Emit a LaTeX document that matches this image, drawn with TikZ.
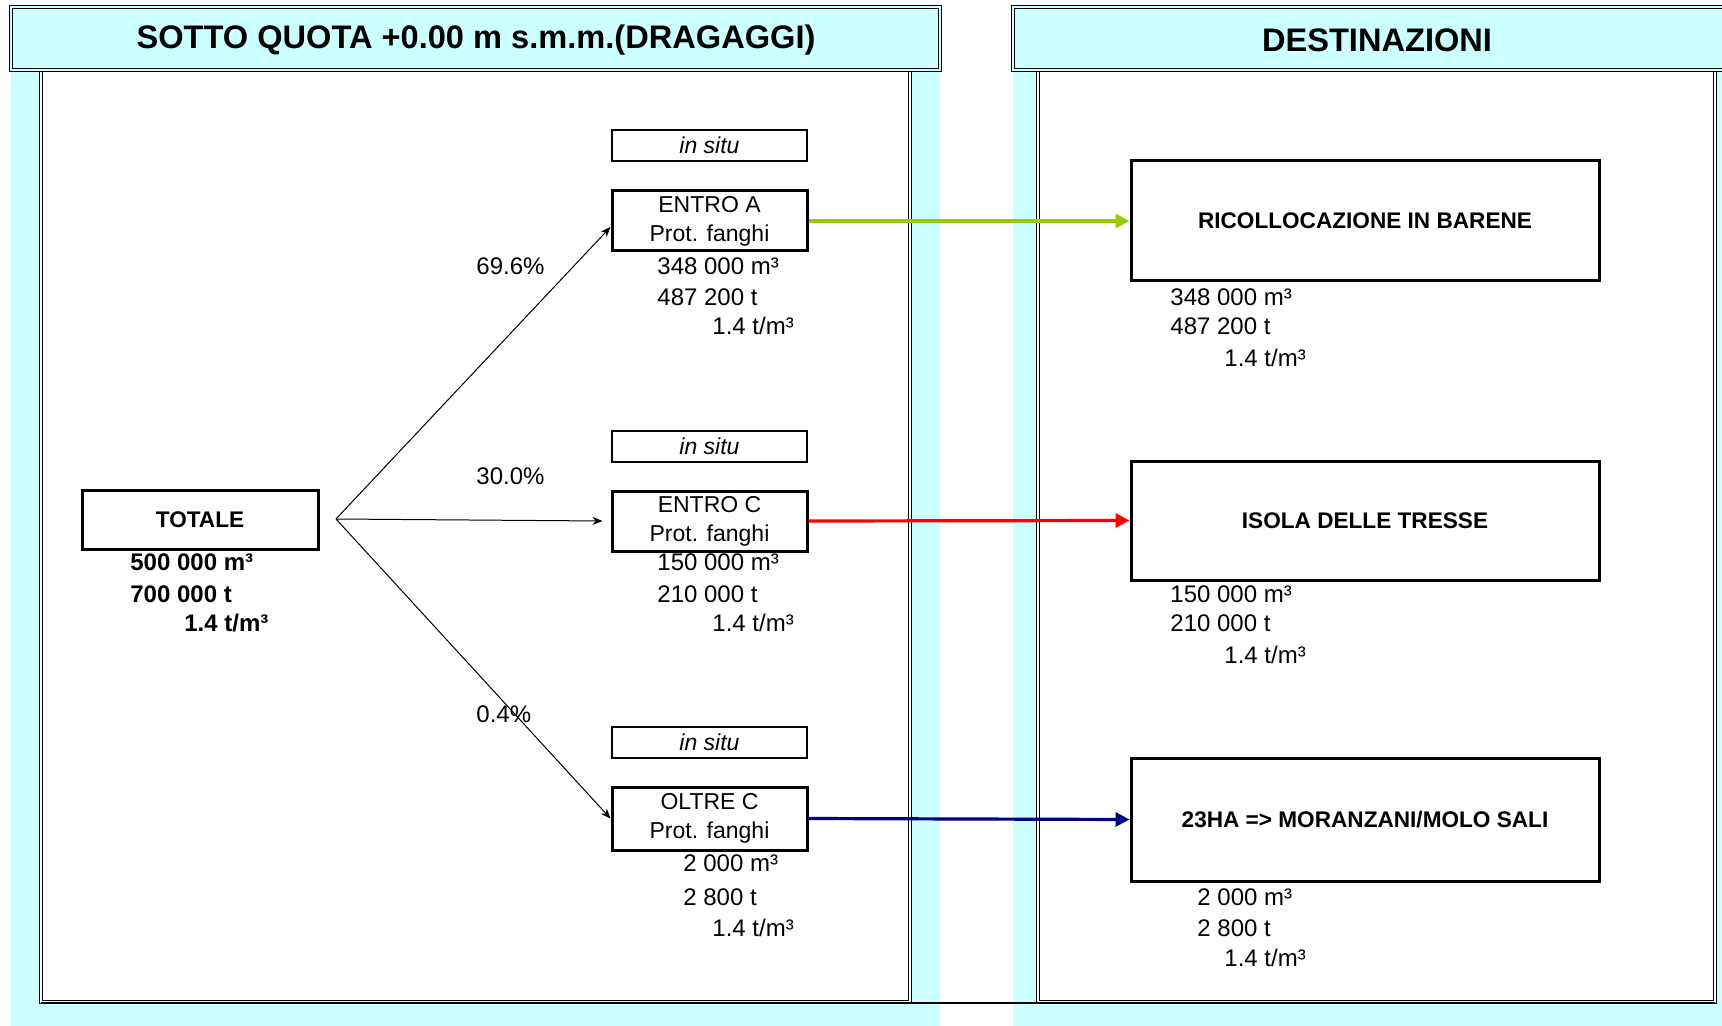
\documentclass[tikz,border=0pt]{standalone}
\usepackage{fontspec}
\setmainfont{Liberation Sans}
\usetikzlibrary{arrows.meta}
\definecolor{cyanbg}{HTML}{CCFFFF}
\definecolor{limegr}{HTML}{99CC00}
\definecolor{navyb}{HTML}{000080}
\begin{document}
\begin{tikzpicture}[x=0.5pt,y=-0.5pt,
 dbl/.style={draw=black,double=#1,double distance=1.2pt,line width=0.6pt},
 hdrtxt/.style={inner sep=0pt,font=\fontsize{16.3}{18}\selectfont\bfseries},
 mainbox/.style={draw,line width=1.5pt,align=center,inner sep=0pt,minimum width=97.5pt,minimum height=30pt,font=\fontsize{11.5}{14.5}\selectfont},
 destbox/.style={draw,line width=1.5pt,align=center,inner sep=0pt,minimum width=234pt,minimum height=60pt,font=\fontsize{11.3}{14}\selectfont\bfseries},
 situbox/.style={draw,line width=0.9pt,minimum width=97.5pt,minimum height=15.5pt,inner sep=0pt,font=\fontsize{11.5}{14}\selectfont\itshape},
 datatxt/.style={anchor=west,inner sep=0pt,font=\fontsize{12}{14}\selectfont},
 boldtxt/.style={anchor=west,inner sep=0pt,font=\fontsize{12}{14}\selectfont\bfseries},
 flow/.style={-{Stealth[length=5pt,width=4pt]},line width=0.5pt},
 destarrow/.style={-{Triangle[length=7pt,width=7pt]},line width=1.6pt}
]
\useasboundingbox (0,0) rectangle (1722,1026);
% backgrounds
\fill[cyanbg] (11,7) rectangle (940,1026);
\fill[cyanbg] (1013,7) rectangle (1722,1026);
% inner frames
\filldraw[fill=white,dbl=white] (41,70) rectangle (910,1002);
\filldraw[fill=white,dbl=white] (1038,70) rectangle (1715,1002);
\draw[line width=1.4pt] (41,1003) -- (1715,1003);
% headers
\filldraw[fill=cyanbg,dbl=cyanbg] (11,7) rectangle (940,70);
\filldraw[fill=cyanbg,dbl=cyanbg] (1013,7) rectangle (1730,70);
\node[hdrtxt] (hdrL) at (476,40) {SOTTO QUOTA +0.00 m s.m.m.(DRAGAGGI)};
\node[hdrtxt] (hdrR) at (1377,40) {DESTINAZIONI};

% TOTALE
\node[mainbox,minimum width=118pt,minimum height=29.5pt,font=\fontsize{11.3}{14}\selectfont\bfseries] (totale) at (200,520) {TOTALE};
\node[boldtxt] (t1) at (130,562) {500 000 m³};
\node[boldtxt] (t2) at (130,594) {700 000 t};
\node[boldtxt] (t3) at (184,623) {1.4 t/m³};
\coordinate (br) at (336,519);

% in situ
\node[situbox] (s1) at (709.5,145.5) {in situ};
\node[situbox] (s2) at (709.5,446.5) {in situ};
\node[situbox] (s3) at (709.5,742.5) {in situ};

% sources
\node[mainbox] (ea) at (709.5,221) {ENTRO A\\Prot. fanghi};
\node[mainbox] (ec) at (709.5,521) {ENTRO C\\Prot. fanghi};
\node[mainbox,minimum height=31.5pt] (oc) at (709.5,818.5) {OLTRE C\\Prot. fanghi};

\node[datatxt] (ea1) at (657,266) {348 000 m³};
\node[datatxt] (ea2) at (657,297) {487 200 t};
\node[datatxt] (ea3) at (712,326) {1.4 t/m³};
\node[datatxt] (ec1) at (657,562) {150 000 m³};
\node[datatxt] (ec2) at (657,594) {210 000 t};
\node[datatxt] (ec3) at (712,623) {1.4 t/m³};
\node[datatxt] (oc1) at (683,863) {2 000 m³};
\node[datatxt] (oc2) at (683,897) {2 800 t};
\node[datatxt] (oc3) at (712,928) {1.4 t/m³};

% percentages
\node[datatxt] (p1) at (476,266) {69.6\%};
\node[datatxt] (p2) at (476,476) {30.0\%};
\node[datatxt] (p3) at (476,714) {0.4\%};

% flows
\draw[flow] (br) -- ([yshift=-3pt]ea.west);
\draw[flow] (br) -- ([xshift=-4pt]ec.west);
\draw[flow] (br) -- (oc.west);

% destinations
\node[destbox] (d1) at (1365,221) {RICOLLOCAZIONE IN BARENE};
\node[destbox,minimum height=59.5pt] (d2) at (1365,520.5) {ISOLA DELLE TRESSE};
\node[destbox,minimum height=61.5pt] (d3) at (1365,819.5) {23HA => MORANZANI/MOLO SALI};

\node[datatxt] (d11) at (1170,297) {348 000 m³};
\node[datatxt] (d12) at (1170,326) {487 200 t};
\node[datatxt] (d13) at (1224,358) {1.4 t/m³};
\node[datatxt] (d21) at (1170,594) {150 000 m³};
\node[datatxt] (d22) at (1170,623) {210 000 t};
\node[datatxt] (d23) at (1224,655) {1.4 t/m³};
\node[datatxt] (d31) at (1197,897) {2 000 m³};
\node[datatxt] (d32) at (1197,928) {2 800 t};
\node[datatxt] (d33) at (1224,958) {1.4 t/m³};

\draw[destarrow,limegr] (ea.east) -- (d1.west);
\draw[destarrow,red] (ec.east) -- (d2.west);
\draw[destarrow,navyb] (oc.east) -- (d3.west);
\end{tikzpicture}
\end{document}
